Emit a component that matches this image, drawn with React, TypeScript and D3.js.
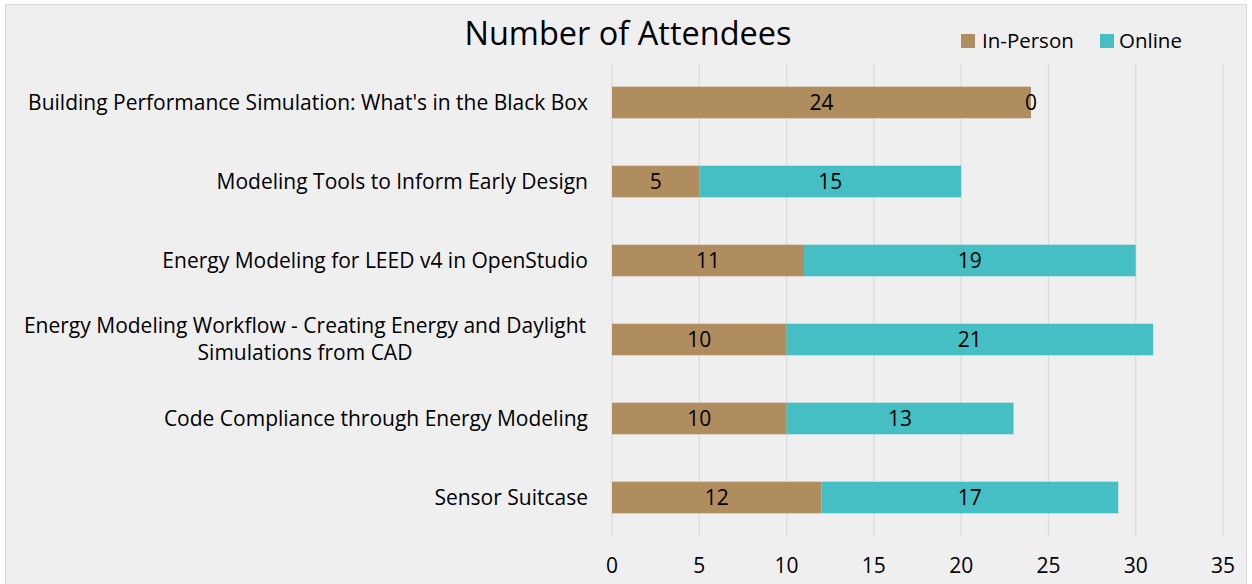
import React from "react";
import * as d3 from "d3";

const categories = [
  "Building Performance Simulation: What's in the Black Box",
  "Modeling Tools to Inform Early Design",
  "Energy Modeling for LEED v4 in OpenStudio",
  "Energy Modeling Workflow - Creating Energy and Daylight\nSimulations from CAD",
  "Code Compliance through Energy Modeling",
  "Sensor Suitcase",
];
const inPerson = [24, 5, 11, 10, 10, 12];
const online = [0, 15, 19, 21, 13, 17];
const xTicks = [0, 5, 10, 15, 20, 25, 30, 35];
const seriesNames = ["In-Person", "Online"];
const colors = ["#B08D5E", "#45BFC3"];

const W = 1252;
const H = 584;
const FONT = "'Open Sans', sans-serif";
const FS = 21;

export default function App() {
  const x = d3.scaleLinear().domain([0, 35]).range([612, 1223]);
  const y = d3
    .scaleBand<string>()
    .domain(categories)
    .range([63, 537])
    .paddingInner(0.6)
    .paddingOuter(0.3);
  const rows = categories.map((c, i) => ({
    c,
    segs: [
      { s: 0, v: inPerson[i], x0: 0, x1: inPerson[i] },
      { s: 1, v: online[i], x0: inPerson[i], x1: inPerson[i] + online[i] },
    ],
  }));
  return (
    <>
      <style>{"body{margin:0;background:#fff}"}</style>
      <svg width={W} height={H} style={{ display: "block", fontFamily: FONT }}>
        <rect x={5.5} y={4.5} width={1241} height={600} fill="#EFEFEF" stroke="#D9D9D9" />
        {xTicks.map((t) => (
          <line key={t} x1={x(t)} x2={x(t)} y1={63} y2={537} stroke="#DCDCDC" strokeWidth={1.3} />
        ))}
        {rows.map((r) =>
          r.segs.map((sg) => (
            <rect
              key={r.c + sg.s}
              x={x(sg.x0)}
              width={x(sg.x1) - x(sg.x0)}
              y={y(r.c)}
              height={y.bandwidth()}
              fill={colors[sg.s]}
            />
          ))
        )}
        {rows.map((r) =>
          r.segs.map((sg) => (
            <text
              key={"l" + r.c + sg.s}
              x={(x(sg.x0) + x(sg.x1)) / 2}
              y={(y(r.c) as number) + y.bandwidth() / 2}
              dy="0.35em"
              textAnchor="middle"
              fontSize={FS}
              fill="#000"
            >
              {sg.v}
            </text>
          ))
        )}
        {categories.map((c) => {
          const lines = c.split("\n");
          const cy = (y(c) as number) + y.bandwidth() / 2;
          if (lines.length === 1) {
            return (
              <text key={"c" + c} x={588} y={cy} dy="0.35em" textAnchor="end" fontSize={FS} fill="#000">
                {c}
              </text>
            );
          }
          return (
            <text key={"c" + c} x={305} y={cy - 13.5} textAnchor="middle" fontSize={FS} fill="#000">
              {lines.map((l, k) => (
                <tspan key={k} x={305} dy={k === 0 ? "0.35em" : 27}>
                  {l}
                </tspan>
              ))}
            </text>
          );
        })}
        {xTicks.map((t) => (
          <text key={"t" + t} x={x(t)} y={566} dy="0.35em" textAnchor="middle" fontSize={FS} fill="#000">
            {t}
          </text>
        ))}
        <text x={628} y={34} dy="0.35em" textAnchor="middle" fontSize={32.5} fill="#000">
          Number of Attendees
        </text>
        <g>
          <rect x={961} y={34} width={14} height={14} fill={colors[0]} />
          <text x={982} y={41} dy="0.35em" fontSize={20.5} fill="#000">
            {seriesNames[0]}
          </text>
          <rect x={1100} y={34} width={14} height={14} fill={colors[1]} />
          <text x={1119} y={41} dy="0.35em" fontSize={20.5} fill="#000">
            {seriesNames[1]}
          </text>
        </g>
      </svg>
    </>
  );
}
